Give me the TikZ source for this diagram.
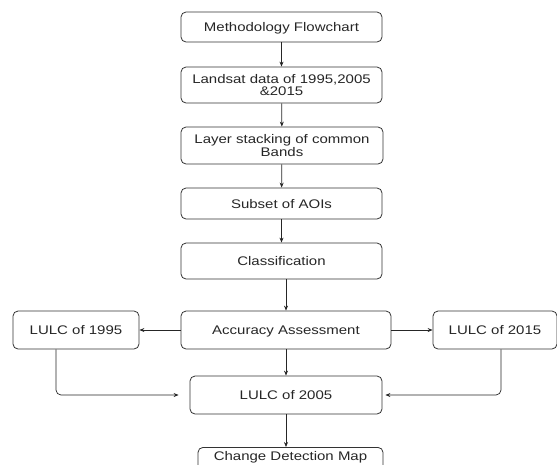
\documentclass[tikz,border=0pt]{standalone}
\usepackage{fontspec}
\setmainfont{Liberation Sans}[FakeStretch=1.2]
\usetikzlibrary{arrows.meta}
\begin{document}
\begin{tikzpicture}[x=1pt,y=-1pt,
  box/.style={draw=black!80,line width=0.8pt,rounded corners=5pt,inner sep=0pt,
    font=\fontsize{12.5}{11.5}\selectfont,text=black!85},
  one/.style={text height=9pt,text depth=0pt},
  link/.style={draw=black!85,line width=0.7pt,-{Stealth[length=5pt,width=4pt]}}]
  \useasboundingbox (0,0) rectangle (557,464);
  \clip (0,0) rectangle (557,464);
  \node[box,one,minimum width=201pt,minimum height=30pt] (meth) at (281.5,27) {Methodology Flowchart};
  \node[box,align=center,minimum width=201pt,minimum height=36pt] (land) at (281.5,85)
    {Landsat data of 1995,2005\\\&2015};
  \node[box,align=center,minimum width=202pt,minimum height=37pt] (stack) at (282,145.5)
    {Layer stacking of common\\Bands};
  \node[box,one,minimum width=201pt,minimum height=31pt] (subset) at (281.5,203.5) {Subset of AOIs};
  \node[box,one,minimum width=201pt,minimum height=36pt] (classif) at (281.5,261) {Classification};
  \node[box,one,minimum width=210pt,minimum height=38pt] (acc) at (286,330) {Accuracy Assessment};
  \node[box,one,minimum width=126pt,minimum height=38pt] (lulcA) at (76,330) {LULC of 1995};
  \node[box,one,minimum width=124pt,minimum height=38pt] (lulcC) at (495,330) {LULC of 2015};
  \node[box,one,minimum width=192pt,minimum height=38pt] (lulcB) at (286,395) {LULC of 2005};
  \node[box,text height=9pt,text depth=25pt,inner ysep=4pt,minimum width=185pt,anchor=north]
    (change) at (290.5,447) {Change Detection Map};
  \draw[link] (meth) -- (land);
  \draw[link] (land) -- (stack);
  \draw[link] (stack) -- (subset);
  \draw[link] (subset) -- (classif);
  \draw[link] (classif.south -| acc) -- (acc);
  \draw[link] (acc) -- (lulcA);
  \draw[link] (acc) -- (lulcC);
  \draw[link] (acc) -- (lulcB);
  \draw[link,rounded corners=5pt,shorten >=11pt] ([xshift=-20pt]lulcA.south) |- (lulcB.west);
  \draw[link,rounded corners=5pt,shorten >=3pt] ([xshift=6pt]lulcC.south) |- (lulcB.east);
  \draw[link] (lulcB.south) -- (lulcB.south |- change.north);
\end{tikzpicture}
\end{document}
